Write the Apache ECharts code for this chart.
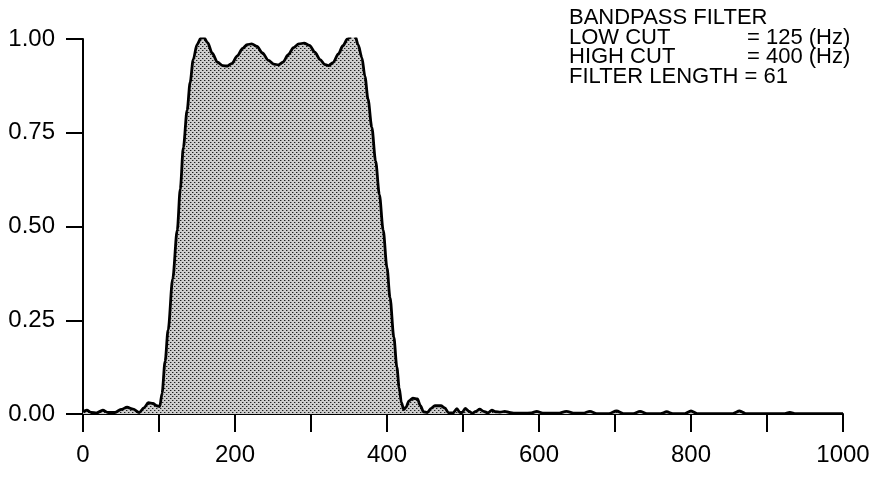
<!DOCTYPE html>
<html>
<head>
<meta charset="utf-8">
<script src="https://cdn.jsdelivr.net/npm/echarts@6/dist/echarts.min.js"></script>
<style>
  html, body { margin: 0; padding: 0; background: #fff; }
  #chart { width: 882px; height: 477px; }
</style>
</head>
<body>
<div id="chart"></div>
<script>
// ---- data ----
const freqHz = [
  0, 5, 11, 18, 26, 33, 42, 50, 58, 66, 74, 80, 86, 92, 97, 101,
  104, 108, 112, 118, 124, 128, 132, 137, 141, 145, 150, 155, 159,
  164, 170, 177, 184, 190, 196, 203, 210, 216, 222, 229, 236, 244,
  251, 257, 263, 270, 277, 284, 291, 298, 305, 312, 318, 323, 329,
  336, 342, 348, 354, 358, 362, 367, 371, 375, 380, 385, 390, 395,
  400, 404, 409, 413, 416, 419, 422, 425, 429, 434, 440, 444, 448,
  453, 458, 463, 471, 476, 481, 487, 492, 496, 499, 503, 508, 512,
  517, 522, 527, 533, 538, 543, 549, 555, 561, 568, 580, 590, 597,
  605, 625, 636, 647, 658, 667, 676, 692, 702, 711, 724, 733, 742,
  760, 768, 776, 792, 800, 808, 855, 864, 872, 922, 930, 938, 1000
];
const amplitude = [
  0.006, 0.010, 0.004, 0.003, 0.010, 0.004, 0.004, 0.012, 0.018, 0.013, 0.004, 0.016, 0.030, 0.028, 0.022, 0.020,
  0.055, 0.14, 0.224, 0.36, 0.49, 0.60, 0.71, 0.81, 0.885, 0.945, 0.985, 1.002, 1.004,
  0.99, 0.962, 0.938, 0.929, 0.928, 0.935, 0.955, 0.975, 0.985, 0.987, 0.98, 0.963, 0.943,
  0.933, 0.931, 0.938, 0.958, 0.977, 0.987, 0.989, 0.983, 0.965, 0.945, 0.932, 0.929, 0.937,
  0.96, 0.982, 1.0, 1.01, 1.008, 0.985, 0.95, 0.90, 0.84, 0.765, 0.675, 0.585, 0.49,
  0.39, 0.31, 0.205, 0.125, 0.07, 0.03, 0.012, 0.018, 0.035, 0.042, 0.040, 0.022, 0.006,
  0.004, 0.015, 0.022, 0.022, 0.016, 0.003, 0.003, 0.014, 0.004, 0.004, 0.015, 0.007, 0.002,
  0.007, 0.013, 0.007, 0.003, 0.010, 0.006, 0.005, 0.007, 0.004, 0.002, 0.002, 0.003, 0.007,
  0.002, 0.002, 0.007, 0.002, 0.002, 0.007, 0.001, 0.001, 0.008, 0.001, 0.001, 0.007, 0.001,
  0.001, 0.006, 0.001, 0.001, 0.008, 0.001, 0.001, 0.008, 0.001, 0.001, 0.004, 0.001, 0.001
];
const xTickLabels = ['0', '200', '400', '600', '800', '1000'];
const yTickLabels = ['0.00', '0.25', '0.50', '0.75', '1.00'];
const noteLeft = ['BANDPASS FILTER', 'LOW CUT', 'HIGH CUT', 'FILTER LENGTH = 61'];
const noteRight = ['', '= 125 (Hz)', '= 400 (Hz)', ''];

// ---- dotted halftone fill pattern ----
function makePattern() {
  const c = document.createElement('canvas');
  c.width = 4; c.height = 4;
  const g = c.getContext('2d');
  g.fillStyle = '#cdcdcd';
  g.fillRect(0, 0, 4, 4);
  g.fillStyle = '#1e1e1e';
  g.fillRect(0, 0, 1, 1);
  g.fillRect(2, 2, 1, 1);
  g.fillStyle = '#8a8a8a';
  g.fillRect(1, 0, 1, 1);
  g.fillRect(3, 2, 1, 1);
  return c;
}

const FONT = '"Liberation Sans", Arial, Helvetica, sans-serif';
const chart = echarts.init(document.getElementById('chart'), null, { renderer: 'canvas' });

const data = freqHz.map((f, i) => [f, amplitude[i]]);

const lineY = [19, 38.5, 58, 77.5];
const noteStyle = { fontFamily: FONT, fontSize: 22, fill: '#000' };
const graphics = [];
noteLeft.forEach((t, i) => {
  graphics.push({ type: 'text', left: 569, top: lineY[i] - 12,
    style: Object.assign({ text: t }, noteStyle) });
});
noteRight.forEach((t, i) => {
  if (!t) return;
  graphics.push({ type: 'text', left: 747, top: lineY[i] - 12,
    style: Object.assign({ text: t }, noteStyle) });
});

const labelStyle = { color: '#000', fontFamily: FONT, fontSize: 24 };

chart.setOption({
  animation: false,
  backgroundColor: '#ffffff',
  grid: { left: 83, right: 39, top: 39, bottom: 63, containLabel: false },
  xAxis: {
    type: 'value', min: 0, max: 1000, interval: 100,
    splitLine: { show: false },
    axisLine: { show: true, onZero: false, lineStyle: { color: '#000', width: 2 } },
    axisTick: { show: true, inside: false, length: 18, lineStyle: { color: '#000', width: 2 } },
    axisLabel: Object.assign({
      margin: 29,
      formatter: v => xTickLabels.includes(String(v)) ? String(v) : ''
    }, labelStyle)
  },
  yAxis: {
    type: 'value', min: 0, max: 1, interval: 0.25,
    splitLine: { show: false },
    axisLine: { show: true, lineStyle: { color: '#000', width: 2 } },
    axisTick: { show: true, inside: false, length: 17, lineStyle: { color: '#000', width: 2 } },
    axisLabel: Object.assign({
      margin: 28,
      formatter: v => yTickLabels[Math.round(v / 0.25)]
    }, labelStyle)
  },
  graphic: graphics,
  series: [{
    type: 'line',
    data: data,
    showSymbol: false,
    smooth: 0.3,
    smoothMonotone: 'x',
    lineStyle: { color: '#000', width: 2.8 },
    areaStyle: { color: { image: makePattern(), repeat: 'repeat' }, opacity: 1 },
    z: 1
  }]
});
</script>
</body>
</html>
